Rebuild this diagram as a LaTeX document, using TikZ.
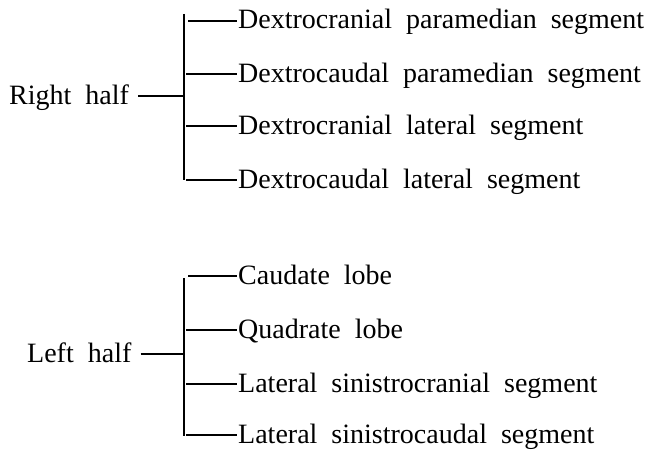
\documentclass[tikz,border=0pt]{standalone}
\usepackage{fontspec}
\setmainfont{Liberation Serif}
\newcommand\mywordsp{\spaceskip 14pt\relax}
\newcommand\mytxtfont{\fontsize{28}{32}\selectfont\mywordsp}
\begin{document}
\begin{tikzpicture}[x=1pt,y=-1pt,
  txt/.style={font=\mytxtfont,
    inner ysep=0pt, text height=20pt, text depth=4pt},
  item/.style={txt, inner xsep=1pt, anchor=base west},
  half/.style={txt, inner xsep=0pt, anchor=base west},
  branch/.style={line width=1.3pt},
  brace/.style={line width=1.8pt}]
\path[use as bounding box, fill=white] (0,0) rectangle (650,452);

% ---------- Right half ----------
\node[half] (rh) at (9,104) {Right half};
\coordinate (rtop) at (184,14);
\coordinate (rbot) at (184,180);
\coordinate (rmid) at (184,96);
\draw[brace] (rtop) -- (rbot);
\draw[branch] ([xshift=9pt]rh.east) -- (rmid);

\node[item] (r1) at (237,29) {Dextrocranial paramedian segment};
\node[item] (r2) at (237,82) {Dextrocaudal paramedian segment};
\node[item] (r3) at (237,134) {Dextrocranial lateral segment};
\node[item] (r4) at (237,188) {Dextrocaudal lateral segment};
\coordinate (rb1) at (188,21);
\coordinate (rb2) at (186,74);
\coordinate (rb3) at (186,126);
\coordinate (rb4) at (186,180);
\draw[branch] (rb1) -- (r1.west);
\draw[branch] (rb2) -- (r2.west);
\draw[branch] (rb3) -- (r3.west);
\draw[branch] (rb4) -- (r4.west);

% ---------- Left half ----------
\node[half] (lh) at (27,362) {Left half};
\coordinate (ltop) at (184,278);
\coordinate (lbot) at (184,436);
\coordinate (lmid) at (184,354);
\draw[brace] (ltop) -- (lbot);
\draw[branch] ([xshift=9pt]lh.east) -- (lmid);

\node[item] (l1) at (237,284) {Caudate lobe};
\node[item] (l2) at (237,338) {Quadrate lobe};
\node[item] (l3) at (237,392) {Lateral sinistrocranial segment};
\node[item] (l4) at (237,443) {Lateral sinistrocaudal segment};
\coordinate (lb1) at (188,276);
\coordinate (lb2) at (186,330);
\coordinate (lb3) at (186,384);
\coordinate (lb4) at (186,435);
\draw[branch] (lb1) -- (l1.west);
\draw[branch] (lb2) -- (l2.west);
\draw[branch] (lb3) -- (l3.west);
\draw[branch] (lb4) -- (l4.west);
\end{tikzpicture}
\end{document}
